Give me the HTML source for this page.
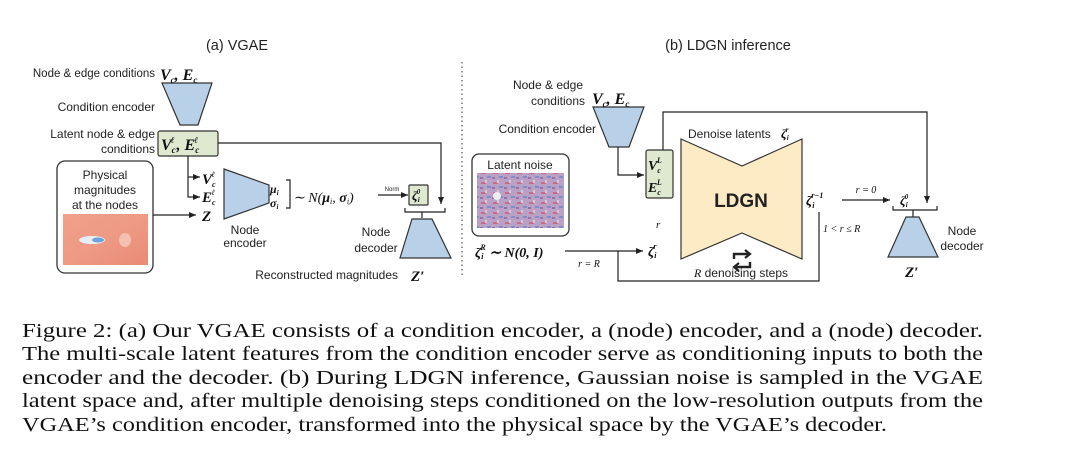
<!DOCTYPE html>
<html><head><meta charset="utf-8"><style>
html,body{margin:0;padding:0;background:#fff;}
svg{display:block}
.s{font-family:"Liberation Sans",sans-serif;fill:#222;}
.m{font-family:"Liberation Serif",serif;font-style:italic;font-weight:bold;fill:#111;}
.mi{font-family:"Liberation Serif",serif;font-style:italic;fill:#111;}
.mr{font-family:"Liberation Serif",serif;fill:#111;}
.cap{font-family:"Liberation Serif",serif;font-size:20px;fill:#111;}
</style></head><body>
<svg width="1080" height="465" viewBox="0 0 1080 465" xmlns="http://www.w3.org/2000/svg">
<defs>
<marker id="a" markerWidth="8" markerHeight="8" refX="7" refY="4" orient="auto" markerUnits="userSpaceOnUse"><path d="M0,1 L7,4 L0,7 z" fill="#222"/></marker>
<linearGradient id="phys" x1="0" y1="0" x2="1" y2="1"><stop offset="0" stop-color="#f0a08a"/><stop offset="0.5" stop-color="#ee9a85"/><stop offset="1" stop-color="#e98a74"/></linearGradient>
<pattern id="noise" width="12" height="10" patternUnits="userSpaceOnUse"><rect width="12" height="10" fill="#b9a1c6"/><rect x="1" y="2" width="5" height="2" fill="#c86b8a"/><rect x="7" y="6" width="4" height="2" fill="#7e8ec8"/><rect x="5" y="0" width="2" height="3" fill="#d9c7d6"/><rect x="0" y="7" width="3" height="2" fill="#9a6fa8"/></pattern>
</defs>
<g stroke="#222" stroke-width="1.2" fill="none">
<polygon points="162,83 212,83 198,125 180,125" fill="#b8d0e8" stroke="#333"/>
<rect x="158" y="131" width="60" height="25" rx="2" fill="#dfe9cf" stroke="#333"/>
<polyline points="218,143 441,143 441,204" marker-end="url(#a)"/>
<polyline points="188,156 188,197 200,197" marker-end="url(#a)"/>
<line x1="188" y1="177" x2="200" y2="177" marker-end="url(#a)"/>
<rect x="57" y="161" width="96" height="112" rx="8" stroke="#333" stroke-width="1.3"/>
<line x1="153" y1="215" x2="196" y2="215" marker-end="url(#a)"/>
<polygon points="224,169 269,185 269,203 224,219" fill="#b8d0e8" stroke="#333"/>
<polyline points="286,180 290,180 290,208 286,208"/>
<line x1="378" y1="195" x2="408" y2="195" marker-end="url(#a)"/>
<rect x="409" y="185" width="19" height="20" rx="1" fill="#dfe9cf" stroke="#333"/>
<polyline points="405,208 405,212 445,212 445,208"/>
<line x1="422" y1="212" x2="422" y2="218"/>
<polygon points="412,219 432,219 451,258 400,258" fill="#b8d0e8" stroke="#333"/>
<line x1="462" y1="62" x2="462" y2="277" stroke-dasharray="1.5,3" stroke="#555"/>
<polygon points="593,107 644,107 629,147 609,147" fill="#b8d0e8" stroke="#333"/>
<polyline points="618,147 618,175 644,175" marker-end="url(#a)"/>
<rect x="646" y="150" width="27" height="48" rx="2" fill="#dfe9cf" stroke="#333"/>
<polyline points="663,150 663,112 927,112 927,203" marker-end="url(#a)"/>
<rect x="472" y="154" width="97" height="82" rx="7" stroke="#333" stroke-width="1.3"/>
<polygon points="681,139 742,166 802,139 802,259 742,233 681,259" fill="#fdebc6" stroke="#333"/>
<line x1="565" y1="251" x2="643" y2="251" marker-end="url(#a)"/>
<polyline points="819,212 819,281 618,281 618,251"/>
<line x1="842" y1="200" x2="890" y2="200" marker-end="url(#a)"/>
<polyline points="893,206 893,210 937,210 937,206"/>
<line x1="913" y1="210" x2="913" y2="217"/>
<polygon points="906,217 919,217 938,257 888,257" fill="#b8d0e8" stroke="#333"/>
<path d="M734,259 L734,254 L748,254" stroke-width="2.4"/>
<path d="M745,250 L750,254 L745,258" stroke-width="2.2"/>
<path d="M750,262 L750,267 L736,267" stroke-width="2.4"/>
<path d="M739,263 L734,267 L739,271" stroke-width="2.2"/>
</g>
<rect x="63" y="214" width="85" height="51" fill="url(#phys)"/>
<ellipse cx="92" cy="240" rx="13" ry="4" fill="#e8eef5"/><ellipse cx="98" cy="240" rx="6" ry="2.5" fill="#6ea3d8"/>
<ellipse cx="125" cy="240" rx="6" ry="7" fill="#f4c0b0"/>
<rect x="477" y="173" width="87" height="55" fill="url(#noise)"/>
<circle cx="497" cy="196" r="4" fill="#eee"/>
<text class="s" x="237" y="50" font-size="14.5" text-anchor="middle">(a) VGAE</text>
<text class="s" x="155" y="77" font-size="11.5" text-anchor="end">Node &amp; edge conditions</text>
<text class="m" x="160" y="80" font-size="16">V<tspan font-size="9" dy="3">c</tspan><tspan dy="-3">, E</tspan><tspan font-size="9" dy="3">c</tspan></text>
<text class="s" x="155" y="111" font-size="12" text-anchor="end">Condition encoder</text>
<text class="s" x="155" y="138" font-size="12" text-anchor="end">Latent node &amp; edge</text>
<text class="s" x="155" y="153" font-size="12" text-anchor="end">conditions</text>
<text class="m" x="161" y="150" font-size="16">V<tspan font-size="9" dy="3">c</tspan><tspan font-size="9" dx="-5" dy="-10">ℓ</tspan><tspan dx="2" dy="7">, E</tspan><tspan font-size="9" dy="3">c</tspan><tspan font-size="9" dx="-5" dy="-10">ℓ</tspan></text>
<text class="s" x="105" y="179" font-size="12" text-anchor="middle">Physical</text>
<text class="s" x="105" y="194" font-size="12" text-anchor="middle">magnitudes</text>
<text class="s" x="105" y="209" font-size="12" text-anchor="middle">at the nodes</text>
<text class="m" x="202" y="184" font-size="15">V<tspan font-size="8" dy="3">c</tspan><tspan font-size="8" dx="-4" dy="-10">ℓ</tspan></text>
<text class="m" x="202" y="202" font-size="15">E<tspan font-size="8" dy="3">c</tspan><tspan font-size="8" dx="-4" dy="-10">ℓ</tspan></text>
<text class="m" x="202" y="221" font-size="15">Z</text>
<text class="s" x="245" y="234" font-size="12" text-anchor="middle">Node</text>
<text class="s" x="245" y="247" font-size="12" text-anchor="middle">encoder</text>
<text class="m" x="270" y="193" font-size="12">μ<tspan font-size="7" dy="2">i</tspan></text>
<text class="m" x="270" y="207" font-size="12">σ<tspan font-size="7" dy="2">i</tspan></text>
<text class="mi" x="293" y="202" font-size="14">∼ N(<tspan font-weight="bold">μ</tspan><tspan font-size="8" dy="2">i</tspan><tspan dy="-2">, </tspan><tspan font-weight="bold">σ</tspan><tspan font-size="8" dy="2">i</tspan><tspan dy="-2">)</tspan></text>
<text class="s" x="392" y="191" font-size="6" text-anchor="middle">Norm</text>
<text class="m" x="412" y="200" font-size="13">ζ<tspan font-size="7" dy="2">i</tspan><tspan font-size="7" dx="-3" dy="-8">0</tspan></text>
<text class="s" x="376" y="236" font-size="12" text-anchor="middle">Node</text>
<text class="s" x="376" y="252" font-size="12" text-anchor="middle">decoder</text>
<text class="s" x="398" y="279" font-size="12" text-anchor="end">Reconstructed magnitudes</text>
<text class="m" x="411" y="281" font-size="15">Z′</text>
<text class="s" x="728" y="50" font-size="14.5" text-anchor="middle">(b) LDGN inference</text>
<text class="s" x="548" y="89" font-size="12" text-anchor="middle">Node &amp; edge</text>
<text class="s" x="585" y="105" font-size="12" text-anchor="end">conditions</text>
<text class="m" x="592" y="104" font-size="16">V<tspan font-size="9" dy="3">c</tspan><tspan dy="-3">, E</tspan><tspan font-size="9" dy="3">c</tspan></text>
<text class="s" x="596" y="133" font-size="12" text-anchor="end">Condition encoder</text>
<text class="m" x="648" y="170" font-size="14">V<tspan font-size="8" dy="3">c</tspan><tspan font-size="8" dx="-4" dy="-10">L</tspan></text>
<text class="m" x="648" y="192" font-size="14">E<tspan font-size="8" dy="3">c</tspan><tspan font-size="8" dx="-4" dy="-10">L</tspan></text>
<text class="s" x="520" y="169" font-size="12" text-anchor="middle">Latent noise</text>
<text class="s" x="688" y="138" font-size="12">Denoise latents</text>
<text class="m" x="781" y="138" font-size="13">ζ<tspan font-size="7" dy="2">i</tspan><tspan font-size="7" dx="-3" dy="-8">r</tspan></text>
<text class="s" x="741" y="207" font-size="19" font-weight="bold" text-anchor="middle">LDGN</text>
<text class="s" x="741" y="277" font-size="12" text-anchor="middle"><tspan class="mi">R</tspan> denoising steps</text>
<text class="m" x="806" y="205" font-size="14">ζ<tspan font-size="8" dy="3">i</tspan><tspan font-size="8" dx="-3" dy="-10" class="mi">r</tspan><tspan font-size="8" class="mr">−1</tspan></text>
<text class="mi" x="866" y="193" font-size="10" text-anchor="middle">r = 0</text>
<text class="m" x="900" y="205" font-size="13">ζ<tspan font-size="7" dy="2">i</tspan><tspan font-size="7" dx="-3" dy="-8">0</tspan></text>
<text class="mi" x="823" y="232" font-size="10">1 &lt; r ≤ R</text>
<text class="s" x="962" y="235" font-size="12" text-anchor="middle">Node</text>
<text class="s" x="962" y="250" font-size="12" text-anchor="middle">decoder</text>
<text class="m" x="905" y="277" font-size="15">Z′</text>
<text class="m" x="475" y="257" font-size="14">ζ<tspan font-size="8" dy="2">i</tspan><tspan font-size="8" dx="-3" dy="-9" class="mi">R</tspan><tspan dy="7" class="mi" font-size="14"> ∼ N(</tspan><tspan class="mr">0, </tspan><tspan>I</tspan><tspan class="mr">)</tspan></text>
<text class="mi" x="589" y="267" font-size="10" text-anchor="middle">r = R</text>
<text class="m" x="648" y="256" font-size="14">ζ<tspan font-size="8" dy="2">i</tspan><tspan font-size="8" dx="-3" dy="-9" class="mi">r</tspan></text>
<text class="mi" x="656" y="228" font-size="11">r</text>
<text class="cap" x="22" y="337" textLength="961" lengthAdjust="spacingAndGlyphs">Figure 2: (a) Our VGAE consists of a condition encoder, a (node) encoder, and a (node) decoder.</text>
<text class="cap" x="22" y="360" textLength="961" lengthAdjust="spacingAndGlyphs">The multi-scale latent features from the condition encoder serve as conditioning inputs to both the</text>
<text class="cap" x="22" y="384" textLength="961" lengthAdjust="spacingAndGlyphs">encoder and the decoder.  (b) During LDGN inference, Gaussian noise is sampled in the VGAE</text>
<text class="cap" x="22" y="407" textLength="961" lengthAdjust="spacingAndGlyphs">latent space and, after multiple denoising steps conditioned on the low-resolution outputs from the</text>
<text class="cap" x="22" y="431" textLength="865" lengthAdjust="spacingAndGlyphs">VGAE’s condition encoder, transformed into the physical space by the VGAE’s decoder.</text>
</svg>
</body></html>
